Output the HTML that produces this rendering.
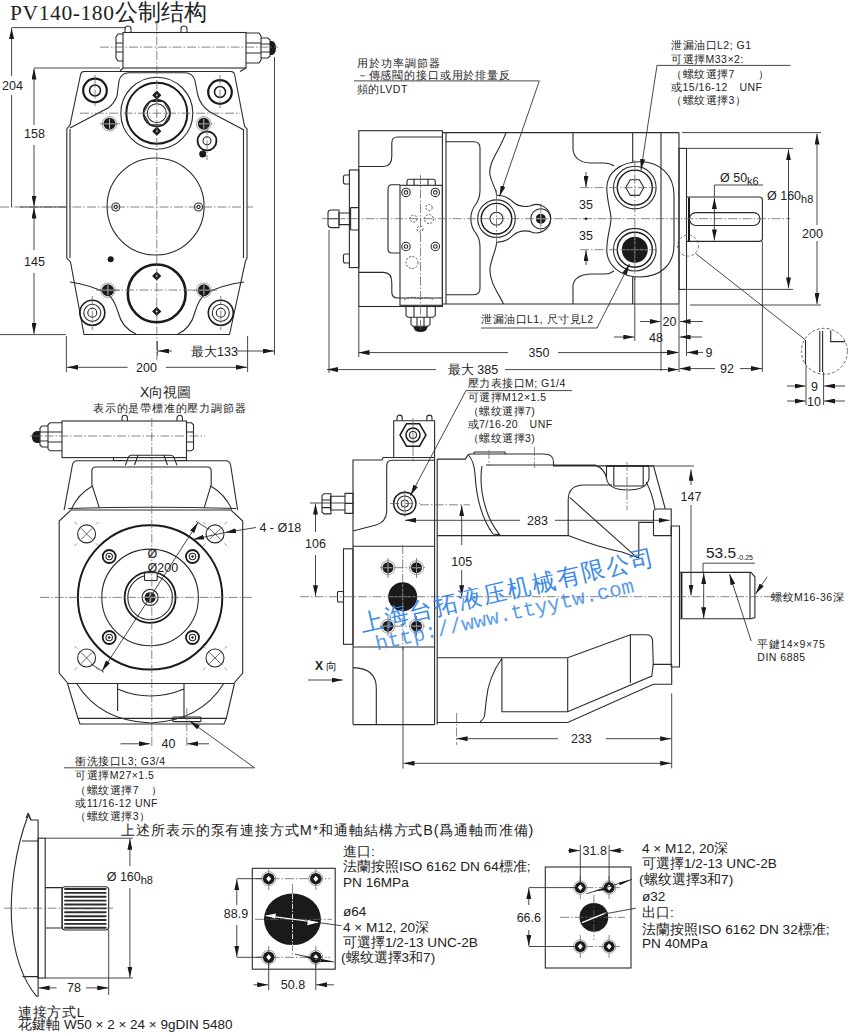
<!DOCTYPE html>
<html><head><meta charset="utf-8">
<style>
html,body{margin:0;padding:0;background:#fff;width:850px;height:1033px;overflow:hidden}
svg{display:block}
.l{stroke:#2a2a2a;fill:none;stroke-width:1.1}
.k{stroke:#1a1a1a;fill:none;stroke-width:2.4}
.c{stroke:#666;fill:none;stroke-width:.8;stroke-dasharray:9 2 1.5 2}
.d{stroke:#333;fill:none;stroke-width:.9}
.f{fill:#1a1a1a;stroke:none}
.w{fill:#fff;stroke:#2a2a2a;stroke-width:1.1}
text{font-family:"Liberation Sans",sans-serif;fill:#222}
.s{font-size:10.5px;letter-spacing:.5px}
.m{font-size:12.5px}
.b{font-size:14px}
</style></head><body>
<svg width="850" height="1033" viewBox="0 0 850 1033">
<defs>
<marker id="a" viewBox="0 0 10 4" refX="10" refY="2" markerWidth="11" markerHeight="5" markerUnits="userSpaceOnUse" orient="auto-start-reverse" preserveAspectRatio="none"><path d="M0,0 L10,2 L0,4 z" fill="#1a1a1a"/></marker>
</defs>
<text x="10" y="20.3" style="font-family:'Liberation Serif',serif;font-size:21.5px;letter-spacing:0.6px">PV140-180<tspan style="letter-spacing:0;font-size:22.5px">公制结构</tspan></text>

<!-- ===== FRONT VIEW ===== -->
<g id="front">
<!-- regulator block -->
<path class="l" d="M125,32 v-3 a3,3 0 0 1 6,0 v3 M181,32 v-3 a3,3 0 0 1 6,0 v3"/>
<rect class="l" x="123" y="32.5" width="123" height="35.5"/>
<path class="l" d="M123,34 h-5 l-2,3 v21 l2,3 h5 M116,43 h7 M116,52 h7"/>
<path class="l" d="M246,33 h13 l2,3 v24 l-2,3 h-13 M246,43 h15 M246,53 h15"/>
<path class="l" d="M261,38 h7 l2,2 v16 l-2,2 h-7 M261,44 h9 M261,52 h9"/>
<path class="f" d="M270,41 h2 a4,7 0 0 1 0,14 h-2 z"/>
<path class="l" d="M123,68 l-3,3 M246,68 l-6,3.5"/>
<!-- main body outline -->
<path class="l" d="M84,71.5 H231 q3,0 3.6,3 L244.5,126 l2.5,3 V258 l-1.5,3 L229.5,334.5 H84 L70.5,262 L66.8,258 V129 l3.2,-4 L80.6,74.5 q0.6,-3 3.4,-3 z"/>
<path class="l" d="M70,129 V258 M243.5,129 V258"/>
<!-- upper inner contour -->
<path class="l" d="M70,128 L108,108 Q114,104 117,96 L119,81 Q121,72.8 129,72.8 H185 Q193,72.8 195,81 L198,96 Q201,106 210,112 L244,130"/>
<!-- lower inner contour -->
<path class="l" d="M70,282 Q90,285 106,293 Q114,298 118,312 Q122,328 136,334 M244,282 Q222,285 207,293 Q199,298 195,312 Q191,328 178,334"/>
<!-- rings upper -->
<circle class="k" cx="95" cy="90.5" r="11.8" style="stroke-width:2.2"/><circle class="k" cx="95" cy="90.5" r="5.5" style="stroke-width:1.5"/>
<circle class="k" cx="220" cy="92" r="11.8" style="stroke-width:2.2"/><circle class="k" cx="220" cy="92" r="5.5" style="stroke-width:1.5"/>
<!-- rings lower -->
<circle class="k" cx="92.3" cy="312.8" r="12.5" style="stroke-width:1.6"/><circle class="l" cx="92.3" cy="312.8" r="8.5"/><circle class="l" cx="92.3" cy="312.8" r="4.5"/>
<circle class="k" cx="220.8" cy="312.8" r="12.5" style="stroke-width:1.6"/><circle class="l" cx="220.8" cy="312.8" r="8.5"/><circle class="l" cx="220.8" cy="312.8" r="4.5"/>
<!-- port plate ring -->
<circle class="l" cx="156.8" cy="113.2" r="36"/>
<circle class="k" cx="156.8" cy="113.2" r="30.5" style="stroke-width:2"/>
<circle class="k" cx="156.8" cy="113.2" r="13.3" style="stroke-width:1.6"/>
<path class="l" d="M150,101.5 h13.6 l6.8,11.7 l-6.8,11.7 h-13.6 l-6.8,-11.7 z"/>
<circle class="l" cx="156.8" cy="113.2" r="9.5"/>
<!-- middle big circle -->
<circle class="l" cx="155.6" cy="206.5" r="48.5"/>
<!-- lower thick circle -->
<circle class="k" cx="156.7" cy="293.4" r="28.9" style="stroke-width:2.6"/>
<!-- small ring right -->
<circle class="k" cx="207" cy="140.8" r="9.5" style="stroke-width:1.8"/><circle class="l" cx="207" cy="140.8" r="4"/>
<circle cx="109.5" cy="123.8" r="7.3" style="fill:none;stroke:#888;stroke-width:.8"/><circle class="f" cx="109.5" cy="123.8" r="6"/><path d="M104.5,123.8 h10 M109.5,118.8 v10" stroke="#bbb" stroke-width="1"/><circle cx="203.8" cy="123.8" r="7.3" style="fill:none;stroke:#888;stroke-width:.8"/><circle class="f" cx="203.8" cy="123.8" r="6"/><path d="M198.8,123.8 h10 M203.8,118.8 v10" stroke="#bbb" stroke-width="1"/><circle cx="107.9" cy="290.2" r="7.3" style="fill:none;stroke:#888;stroke-width:.8"/><circle class="f" cx="107.9" cy="290.2" r="6"/><path d="M102.9,290.2 h10 M107.9,285.2 v10" stroke="#bbb" stroke-width="1"/><circle cx="203.9" cy="290.2" r="7.3" style="fill:none;stroke:#888;stroke-width:.8"/><circle class="f" cx="203.9" cy="290.2" r="6"/><path d="M198.9,290.2 h10 M203.9,285.2 v10" stroke="#bbb" stroke-width="1"/><path class="f" d="M156.8,90.6 L161.4,95.2 L156.8,99.8 L152.2,95.2 z"/><circle cx="156.8" cy="95.2" r="0.9" fill="#fff"/><path class="f" d="M156.8,126.6 L161.4,131.2 L156.8,135.8 L152.2,131.2 z"/><circle cx="156.8" cy="131.2" r="0.9" fill="#fff"/><path class="f" d="M156.7,271.4 L161.3,276.0 L156.7,280.6 L152.1,276.0 z"/><circle cx="156.7" cy="276.0" r="0.9" fill="#fff"/><path class="f" d="M156.7,306.8 L161.3,311.4 L156.7,316.0 L152.1,311.4 z"/><circle cx="156.7" cy="311.4" r="0.9" fill="#fff"/><circle class="l" cx="115.8" cy="207" r="4"/><circle class="l" cx="115.8" cy="207" r="1.6"/><circle class="l" cx="198.5" cy="207" r="4"/><circle class="l" cx="198.5" cy="207" r="1.6"/><circle class="f" cx="202.7" cy="154" r="3.5"/><circle class="f" cx="110.7" cy="259.2" r="3"/>
<path class="c" d="M156.8,22 V360 M100,47.1 H278 M0,207 H253 M80,113.2 H240 M96,290 H217 M95,75 V106 M220,75 V108 M92.3,296 V330 M220.8,296 V330"/>
<path class="c" d="M200,123.8 H215 M100,123.8 H120 M98,290.2 H120 M192,290.2 H215 M207,126 V160"/>
<!-- dimension lines -->
<path class="d" d="M11.6,27.6 H125 M34,68 H120 M20,207 H66 M0,334.6 H66 M66.4,336 V372 M247.6,336 V372 M274.5,57 V355 M157.3,341 V356"/>
<path class="d" marker-end="url(#a)" d="M11.6,76 V28"/>
<path class="d" d="M11.6,95 V207"/>
<path class="d" marker-end="url(#a)" d="M34,125 V68.5"/>
<path class="d" marker-end="url(#a)" d="M34,145 V206.5"/>
<path class="d" marker-end="url(#a)" d="M34,250 V207.5"/>
<path class="d" marker-end="url(#a)" d="M34,273 V334"/>
<path class="d" marker-end="url(#a)" d="M127.6,367.3 H67"/>
<path class="d" marker-end="url(#a)" d="M165.8,367.3 H247"/>
<path class="d" marker-end="url(#a)" d="M172,351 H158"/>
<path class="d" marker-end="url(#a)" d="M237,351 H274"/>
<text class="m" x="2" y="90">204</text>
<text class="m" x="24" y="138">158</text>
<text class="m" x="24" y="266">145</text>
<text class="m" x="136" y="372">200</text>
<text class="m" x="191" y="356">最大133</text>
</g>
<g id="side">
<!-- end cover -->
<rect class="l" x="358.8" y="130.7" width="83.6" height="175.8"/>
<path class="l" d="M358.8,166.5 H383.5 Q391.8,166.5 391.8,156 V143 Q391.8,137 397.6,137 H442.4 M358.8,272.4 H383.5 Q391.8,272.4 391.8,283 V292 Q391.8,298 397.6,298 H442.4"/>
<path class="l" d="M400,184.8 H392 Q388,184.8 388,189 V249 Q388,253 392,253 H400"/>
<!-- mounting plate + bolts -->
<rect class="l" x="349.4" y="170" width="9.4" height="97.6"/>
<path class="l" d="M349.4,175 h-4 q-2,0 -2,2 v5 q0,2 2,2 h4 M349.4,254 h-4 q-2,0 -2,2 v5 q0,2 2,2 h4"/>
<path class="l" d="M350.6,207.6 h8.2 M350.6,230 h8.2 M350.6,207.6 V230"/>
<path class="l" d="M350.6,213 h-11.6 v11.6 h11.6"/>
<path class="l" d="M339,210 h-8 q-3,0 -3,3 v11.6 q0,3 3,3 h8 z M328.5,218.7 h10"/>
<!-- valve block -->
<rect class="l" x="400" y="185.3" width="42.4" height="120"/>
<path class="l" d="M407,185.3 v-4 q0,-2 2,-2 h24.3 q2,0 2,2 v4 M414,179.4 v6 M428,179.4 v6"/>
<circle class="l" cx="406" cy="192.4" r="4.2"/><circle class="l" cx="406" cy="192.4" r="1.8"/>
<circle class="l" cx="435.3" cy="192.4" r="4.2"/><circle class="l" cx="435.3" cy="192.4" r="1.8"/>
<circle class="l" cx="406" cy="246.5" r="4.2"/><circle class="l" cx="406" cy="246.5" r="1.8"/>
<circle class="l" cx="435.3" cy="246.5" r="4.2"/><circle class="l" cx="435.3" cy="246.5" r="1.8"/>
<g style="stroke:#444;fill:none;stroke-width:.9;stroke-dasharray:2 1.5">
<circle cx="429" cy="207.5" r="3.2"/><circle cx="413.5" cy="218.7" r="3.5"/><circle cx="429" cy="219" r="4.5"/><circle cx="420" cy="229" r="3"/><circle cx="412" cy="262.5" r="6"/>
<path d="M404,300 q8,-5 16,-1 q8,-3 14,1"/>
</g>
<!-- bottom fitting -->
<path class="l" d="M406,305.3 v10 l2,2 h25.3 l2,-2 v-10 M414,305.3 v12 M427,305.3 v12"/>
<path class="l" d="M411,317.3 v7 l2,2 h15 l2,-2 v-7 M417,317.3 v9 M424,317.3 v9"/>
<path class="f" d="M413,326.5 h15 l-2,4 q-5.5,3 -11,0 z"/>
<!-- main body -->
<path class="l" d="M442.4,132.6 H679 M442.4,304 H679 M446,132.6 V304 M661,132.6 V304 M679,132.6 V304"/>
<path class="l" d="M446,141.8 H474 Q480,141.8 480,148 V190 Q480,198 476,204 A23.5,23.5 0 0 0 476,233.4 Q480,239 480,247 V288 Q480,294.7 474,294.7 H446"/>
<path class="l" d="M506,132.6 C500,150 488,162 490,175 C492,185 497,190 496.5,195.2 M496.5,242.2 C497,248 492,256 490,268 C489,282 499,294 503.5,304"/>
<path class="l" d="M496.5,195.2 A23.5,23.5 0 0 1 513,202 Q520,208 530,206 A14.2,14.2 0 1 1 530,231.4 Q520,229.4 513,235.4 A23.5,23.5 0 0 1 496.5,242.2"/>
<circle class="l" cx="496.5" cy="218.7" r="18.8"/><circle class="k" cx="496.5" cy="218.7" r="15.3" style="stroke-width:1.4"/>
<circle class="l" cx="496.5" cy="218.7" r="6.5"/>
<circle class="l" cx="540.8" cy="218.7" r="10"/>
<circle class="f" cx="540.8" cy="218.7" r="5"/><path d="M536,218.7 h9.6 M540.8,214 v9.4" stroke="#ccc" stroke-width="1"/>
<path class="l" d="M573,132.6 V150 Q575,162 590,163 H603 Q610,163 614,166 M632.7,132.6 V162 M573,304 V285 Q575,275 590,274 H605 Q610,274 614,271 M632.7,304 V277"/>
<!-- peanut boss -->
<path class="l" d="M640,161.8 C660,161.8 674,175 674,195 V245 C674,265 660,277 640,277 C620,277 606.8,265 606.8,250 C606.8,236 611,226 611,218.7 C611,211 606.8,201 606.8,188 C606.8,173 620,161.8 640,161.8 Z"/>
<circle class="l" cx="634.8" cy="187.6" r="21.3"/><circle class="k" cx="634.8" cy="187.6" r="17.5" style="stroke-width:1.4"/>
<path class="l" d="M630.3,179.8 h9 l4.5,7.8 l-4.5,7.8 h-9 l-4.5,-7.8 z"/>
<circle class="l" cx="634.8" cy="249.7" r="21.3"/><circle class="k" cx="634.8" cy="249.7" r="17.5" style="stroke-width:1.4"/>
<circle class="f" cx="634.8" cy="249.7" r="13"/>
<path d="M622,249.7 h25.6 M634.8,237 v25.4" stroke="#999" stroke-width=".8" stroke-dasharray="3 1.5"/>
<!-- flange + shaft -->
<rect class="l" x="679" y="148.4" width="7.5" height="141"/>
<path class="l" d="M686.5,197 H759.4 q3,0 3,3 V238.4 q0,3 -3,3 H686.5"/>
<path class="k" d="M689,197.5 V241" style="stroke-width:2"/>
<rect class="l" x="689.5" y="212.6" width="70.5" height="12.9" rx="6.4"/>
<circle cx="688" cy="245.6" r="10.5" style="stroke:#555;fill:none;stroke-width:.8;stroke-dasharray:3 2"/>
<path class="d" d="M695.5,253.4 L805,339.5"/>
<!-- detail circle -->
<circle cx="824.4" cy="351.3" r="23" style="stroke:#555;fill:none;stroke-width:.9;stroke-dasharray:3 2"/>
<path class="l" d="M805.5,340 V365 M819.8,331 V372 M822.6,331 V372 M830.7,330.5 V341.6 H845"/>
<path class="d" d="M806,366 V405 M823.6,372 V405"/>
<!-- centerlines -->
<path class="c" d="M322,218.7 H790 M420.5,175 V333 M496.5,190 V248 M540.8,204 V233 M634.8,160 V280 M580,187.6 H656 M580,249.7 H656"/>
<!-- dims -->
<path class="d" d="M329,230 V373 M358.8,306 V357 M661,304 V371 M679,304 V372 M686.5,289.4 V356 M634.8,277 V341 M762.4,241.4 V372"/>
<path class="d" d="M682,132.6 H821 M690,305 H821 M686.5,148.4 H793 M686.5,289.4 H793 M714.4,197 V185 H763"/>
<path class="d" marker-end="url(#a)" d="M817,225 V133.6"/>
<path class="d" marker-end="url(#a)" d="M817,241 V304"/>
<path class="d" marker-end="url(#a)" d="M788.5,218 V149.4"/>
<path class="d" marker-end="url(#a)" d="M788.5,218 V288.4"/>
<path class="d" marker-end="url(#a)" d="M714.4,219 V198"/>
<path class="d" marker-end="url(#a)" d="M714.4,219 V240.4"/>
<path class="d" marker-end="url(#a)" d="M586,172 V187"/>
<path class="d" marker-end="url(#a)" d="M586,265 V250.3"/>
<circle class="f" cx="586" cy="218.7" r="1.3"/>
<path class="d" marker-end="url(#a)" d="M640,321.5 H660.5"/>
<path class="d" marker-end="url(#a)" d="M703,321.5 H679.5"/>
<path class="d" marker-end="url(#a)" d="M614,337 H634.3"/>
<path class="d" marker-end="url(#a)" d="M702,337 H679.5"/>
<path class="d" marker-end="url(#a)" d="M660,352.4 H678.5"/>
<path class="d" marker-end="url(#a)" d="M703,352.4 H687"/>
<path class="d" marker-end="url(#a)" d="M508,352.6 H358.5"/>
<path class="d" marker-end="url(#a)" d="M558,352.6 H678"/>
<path class="d" marker-end="url(#a)" d="M436,369.6 H327"/>
<path class="d" marker-end="url(#a)" d="M505,369.6 H678.5"/>
<path class="d" marker-end="url(#a)" d="M715,368.6 H679.5"/>
<path class="d" marker-end="url(#a)" d="M740,368.6 H762"/>
<path class="d" marker-end="url(#a)" d="M787,386 H805.5"/>
<path class="d" marker-end="url(#a)" d="M845,386 H824.2"/>
<path class="d" marker-end="url(#a)" d="M787,401 H805.5"/>
<path class="d" marker-end="url(#a)" d="M845,401 H824.2"/>
<!-- leaders -->
<path class="d" d="M354,80.9 H539.3"/>
<path class="d" marker-end="url(#a)" d="M539.3,80.9 L499.5,196.5"/>
<path class="d" d="M657,65.4 H790.6"/>
<path class="d" marker-end="url(#a)" d="M657,65.4 L641,170"/>
<path class="d" d="M481,328 H597"/>
<path class="d" marker-end="url(#a)" d="M597,328 L629.5,264"/>
<!-- texts -->
<text class="s" x="356.8" y="66.8" style="letter-spacing:1px">用於功率調節器</text>
<text class="s" x="356.8" y="79" style="letter-spacing:.85px">－傳感閥的接口或用於排量反</text>
<text class="s" x="356.8" y="92.7">頻的LVDT</text>
<text class="s" x="671" y="49">泄漏油口L2; G1</text>
<text class="s" x="671" y="63">可選擇M33×2:</text>
<text class="s" x="671" y="77.5">（螺纹選擇7　　）</text>
<text class="s" x="671" y="90.5">或15/16-12　UNF</text>
<text class="s" x="671" y="103.5">（螺纹選擇3）</text>
<text class="s" x="481" y="323">泄漏油口L1, 尺寸見L2</text>
<text class="m" x="586" y="209" text-anchor="middle">35</text>
<text class="m" x="586" y="240" text-anchor="middle">35</text>
<text class="m" x="669.5" y="326" text-anchor="middle">20</text>
<text class="m" x="656" y="341.5" text-anchor="middle">48</text>
<text class="m" x="709" y="357" text-anchor="middle">9</text>
<text class="m" x="539" y="357" text-anchor="middle">350</text>
<text class="m" x="473" y="374" text-anchor="middle">最大 385</text>
<text class="m" x="727" y="373" text-anchor="middle">92</text>
<text class="m" x="814.5" y="390.5" text-anchor="middle">9</text>
<text class="m" x="814" y="405.5" text-anchor="middle">10</text>
<text class="m" x="812.5" y="238" text-anchor="middle">200</text>
<text class="m" x="767" y="199.5">Ø 160<tspan style="font-size:11px" dy="3">h8</tspan></text>
<text class="m" x="720" y="181.5">Ø 50<tspan style="font-size:11px" dy="3">k6</tspan></text>
</g>
<g id="xview">
<text x="140" y="396.5" style="font-size:14px">X向視圖</text>
<text class="s" x="93" y="412" style="letter-spacing:.8px">表示的是帶標准的壓力調節器</text>
<!-- regulator -->
<path class="l" d="M122,421 v-3 a2.7,2.7 0 0 1 5.4,0 v3 M177,421 v-3 a2.7,2.7 0 0 1 5.4,0 v3"/>
<rect class="l" x="62" y="421" width="124.5" height="36.6"/>
<path class="l" d="M186.5,422.8 h5 l2,2 v24 l-2,2 h-5 M186.5,432 h7 M186.5,442 h7"/>
<path class="l" d="M62,422.8 h-12 l-2,2 v24 l2,2 h12 M48,432 h14 M48,442 h14"/>
<path class="l" d="M48,426 h-6 l-2,2 v17 l2,2 h6 M40,432 h8 M40,441 h8"/>
<path class="f" d="M39.8,431 h-3 a5,6 0 0 0 0,12 h3 z"/>
<path class="l" d="M113.5,457.6 V460.5 H125.3 M177,460.5 H186.5 V457.6"/>
<path class="l" d="M125.3,465.4 L128.3,457.5 q0.8,-2.2 3,-2.2 H171 q2.2,0 3,2.2 L177,465.4 M138,455.3 L134.5,465 M164,455.3 L167.5,465"/>
<!-- upper body -->
<path class="l" d="M64.1,510 L72.4,465 q0.8,-4.3 5,-4.3 H225.6 q4.2,0 5,4.3 L237.6,510"/>
<path class="l" d="M91.9,484.7 V471 q0,-4 4,-4 H207.2 q4,0 4,4 V484.7 L204.1,508.2 M91.9,484.7 L99.4,508.2"/>
<path class="l" d="M92.4,485.9 Q78,494 71.2,509.4 M210.6,485.9 Q225,494 231.8,509.4"/>
<path class="l" d="M68,508.5 Q150,506 236,508.5"/>
<!-- flange square -->
<path class="l" d="M71,510 H231 L242.7,521 V673 L233.7,683.5 H68 L59.2,673 V521 Z"/>
<circle class="k" cx="150.1" cy="597.4" r="72.2" style="stroke-width:2"/>
<circle class="l" cx="150.1" cy="597.4" r="48.3"/>
<circle class="k" cx="150.1" cy="597.4" r="25.5" style="stroke-width:1.8"/>
<circle class="l" cx="150.1" cy="597.4" r="22.3"/>
<rect class="w" x="144.5" y="572.8" width="12.7" height="7.7" rx="1"/>
<circle class="l" cx="150.1" cy="597.4" r="8"/>
<circle class="f" cx="150.1" cy="597.4" r="5.5"/>
<path d="M145,597.4 h10.2 M150.1,592.3 v10.2" stroke="#ddd" stroke-width="1.1"/>
<circle class="k" cx="109.2" cy="556.5" r="6.5" style="stroke-width:1.8"/><circle class="l" cx="109.2" cy="556.5" r="3.2"/><circle class="f" cx="109.2" cy="556.5" r="1.2"/><circle class="k" cx="192.5" cy="556.5" r="6.5" style="stroke-width:1.8"/><circle class="l" cx="192.5" cy="556.5" r="3.2"/><circle class="f" cx="192.5" cy="556.5" r="1.2"/><circle class="k" cx="109.2" cy="637.5" r="6.5" style="stroke-width:1.8"/><circle class="l" cx="109.2" cy="637.5" r="3.2"/><circle class="f" cx="109.2" cy="637.5" r="1.2"/><circle class="k" cx="192.5" cy="637.5" r="6.5" style="stroke-width:1.8"/><circle class="l" cx="192.5" cy="637.5" r="3.2"/><circle class="f" cx="192.5" cy="637.5" r="1.2"/><circle class="l" cx="86.6" cy="533.9" r="9"/><path d="M81.0,528.3 L92.2,539.5 M92.2,528.3 L81.0,539.5" stroke="#444" stroke-width=".8"/><path d="M77.1,524.4 l-2.5,-2.5 M96.0,524.4 l2.5,-2.5 M77.1,543.4 l-2.5,2.5 M96.0,543.4 l2.5,2.5" stroke="#666" stroke-width=".7"/><circle class="l" cx="215.0" cy="533.9" r="9"/><path d="M209.4,528.3 L220.6,539.5 M220.6,528.3 L209.4,539.5" stroke="#444" stroke-width=".8"/><path d="M205.6,524.4 l-2.5,-2.5 M224.4,524.4 l2.5,-2.5 M205.6,543.4 l-2.5,2.5 M224.4,543.4 l2.5,2.5" stroke="#666" stroke-width=".7"/><circle class="l" cx="86.6" cy="658.0" r="9"/><path d="M81.0,652.4 L92.2,663.6 M92.2,652.4 L81.0,663.6" stroke="#444" stroke-width=".8"/><path d="M77.1,648.5 l-2.5,-2.5 M96.0,648.5 l2.5,-2.5 M77.1,667.5 l-2.5,2.5 M96.0,667.5 l2.5,2.5" stroke="#666" stroke-width=".7"/><circle class="l" cx="215.0" cy="658.0" r="9"/><path d="M209.4,652.4 L220.6,663.6 M220.6,652.4 L209.4,663.6" stroke="#444" stroke-width=".8"/><path d="M205.6,648.5 l-2.5,-2.5 M224.4,648.5 l2.5,-2.5 M205.6,667.5 l-2.5,2.5 M224.4,667.5 l2.5,2.5" stroke="#666" stroke-width=".7"/>
<!-- lower body -->
<path class="l" d="M67.5,683.5 L78,718.4 H226.3 L234.5,683.5 M78,718.4 L80,724 H224 L226.3,718.4"/>
<path class="l" d="M117.6,683.5 V711 M184,683.5 V719 M117.6,689 Q150,703 184,689"/>
<path class="l" d="M77,684 Q100,721 150.5,723 Q200,721 223.5,684"/>
<rect class="l" x="172.7" y="717" width="28.3" height="4.6" rx="1"/>
<!-- centerlines -->
<path class="c" d="M30,436 H205 M151.8,418 V748 M40,597.4 H252 M186.8,708 V748"/>

<!-- dims -->
<path class="d" marker-end="url(#a)" d="M150,597.4 L198,522.6"/>
<path class="d" marker-end="url(#a)" d="M150,597.4 L102,671"/>
<path class="d" d="M196,521.3 L209,529.5 M104,672.3 L91,664"/>
<path class="d" marker-end="url(#a)" d="M256,527.5 L225,532.5"/>
<path class="d" marker-end="url(#a)" d="M225,532.5 L193,539.5"/>
<path class="d" marker-end="url(#a)" d="M120.5,743.8 H150"/>
<path class="d" marker-end="url(#a)" d="M209,743.8 H187.3"/>
<path class="d" marker-end="url(#a)" d="M254.6,767.8 L189.6,721"/>
<path class="d" d="M64,767.8 H254.6"/>
<text class="m" x="147.5" y="558">Ø</text>
<text class="m" x="147.5" y="572">Ø200</text>
<text class="m" x="259.4" y="532">4 - Ø18</text>
<text class="m" x="168.5" y="748.3" text-anchor="middle">40</text>
<text class="s" x="75.3" y="764.7">衝洗接口L3; G3/4</text>
<text class="s" x="75.3" y="779.4">可選擇M27×1.5</text>
<text class="s" x="75.3" y="793.8">（螺纹選擇7　）</text>
<text class="s" x="75.3" y="807">或11/16-12 UNF</text>
<text class="s" x="75.3" y="819.7">（螺纹選擇3）</text>
</g>
<g id="mview">
<!-- regulator top -->
<path class="l" d="M397,420.7 v-3 a2.6,2.6 0 0 1 5.2,0 v3 M426.8,420.7 v-3 a2.6,2.6 0 0 1 5.2,0 v3"/>
<path class="l" d="M393.7,457.5 V420.7 H434.6 V457.5"/>
<path class="k" d="M406.5,423.8 h13 l6.5,11.2 l-6.5,11.2 h-13 l-6.5,-11.2 z" style="stroke-width:1.5"/>
<circle class="k" cx="413" cy="435" r="7" style="stroke-width:1.5"/><circle class="l" cx="413" cy="435" r="3.5"/>
<!-- upper cover -->
<path class="l" d="M353,724.6 V460 H382 L383,457.5 H434.6 M353,546.2 H434.6 M353,647 H434.6 M353,724.6 H434.6"/>
<path class="l" d="M434.6,457.5 V724.6 M437.2,459 V724.6"/>
<path class="l" d="M434.6,460.2 H392 Q386.7,460.2 386.7,466 V512 Q386,522 376,525 L353,531"/>
<circle class="k" cx="404.8" cy="503.5" r="11.2" style="stroke-width:1.4"/><circle class="l" cx="404.8" cy="503.5" r="7.5"/><circle class="l" cx="404.8" cy="503.5" r="3.5"/>
<!-- adjust screw -->
<path class="l" d="M345,493.4 h8 v20 h-8 z M345,496.3 h-14.5 v13.7 h14.5 M345,503.4 h8"/>
<path class="l" d="M331,493.7 h-7 l-2,2 v16.2 l2,2 h7 z M322,500 h9 M322,507.6 h9"/>
<!-- lower plate -->
<rect class="l" x="343.5" y="548.8" width="9.5" height="95.5"/>
<rect class="l" x="337.5" y="591.5" width="6" height="10.5" rx="1"/>
<circle class="f" cx="402.7" cy="596.7" r="14.5"/>
<path d="M390,596.7 h25.4 M402.7,584 v25.4" stroke="#999" stroke-width=".8" stroke-dasharray="3 1.5"/>
<circle class="f" cx="388" cy="567.7" r="5.5"/><path d="M383.5,567.7 h9.0 M388,563.2 v9.0" stroke="#bbb" stroke-width="1"/><circle cx="388" cy="567.7" r="7.0" style="stroke:#777;fill:none;stroke-width:.7"/><circle class="f" cx="416.5" cy="567.7" r="5.5"/><path d="M412.0,567.7 h9.0 M416.5,563.2 v9.0" stroke="#bbb" stroke-width="1"/><circle cx="416.5" cy="567.7" r="7.0" style="stroke:#777;fill:none;stroke-width:.7"/><circle class="f" cx="388" cy="626.2" r="5.5"/><path d="M383.5,626.2 h9.0 M388,621.7 v9.0" stroke="#bbb" stroke-width="1"/><circle cx="388" cy="626.2" r="7.0" style="stroke:#777;fill:none;stroke-width:.7"/><circle class="f" cx="416.5" cy="626.2" r="5.5"/><path d="M412.0,626.2 h9.0 M416.5,621.7 v9.0" stroke="#bbb" stroke-width="1"/><circle cx="416.5" cy="626.2" r="7.0" style="stroke:#777;fill:none;stroke-width:.7"/>
<path class="l" d="M353,667.6 Q376.3,668 376.3,688 V724.6"/>
<!-- main body -->
<path class="l" d="M437.2,459.1 H465.3 L468.2,454.6 Q469,454 471,454 H544 Q553.5,454 553.5,462 V465.9 H653.5 L665.3,509 M474,452 H505 V454 M474,452 V454 M486,465 H596"/>
<path class="l" d="M468.5,455 Q474,461 475,474 Q477,512 493,534 M482,466 Q480,476 482,492 Q486,518 499.5,534.5 L493,534"/>
<path class="l" d="M437.2,535.6 H568.2 V500 Q568.2,485 584,485 H612 M646,482 Q652,492 655,509 M569.7,497.4 L637,557.6 M568.2,535.6 Q600,548 622,552 Q632,556 638.8,557.6 V522.4 H653.5"/>
<path class="l" d="M596.2,465.9 Q604,468 606.5,478 M606.5,465.9 V478 Q608,490 627.7,490 Q647.5,490 649,478 V465.9 M613.8,465.9 V486 H643.2 V465.9"/><path class="k" d="M606.5,466 H649" style="stroke-width:1.6"/>
<path class="l" d="M653.5,535.6 V512 Q653.5,509 657,509 H671.2 V535.6 H653.5"/>
<path class="l" d="M437.2,657.8 H567.7 L630.4,634.7 H646 Q652,634.7 652.5,640 L653.3,664.4 H671.7 V684.2 H653.3 L567.7,722.5 H437.2"/>
<path class="l" d="M501.9,658.2 Q488,678 486.3,700 L484.5,716 Q484,719 480,722 M501.9,658.2 V711.8 H567.7 L651.8,676 Q652.5,670 653.3,664.4 M567.7,658.2 V711.8 M630.4,634.7 V683"/>
<!-- flange -->
<path class="l" d="M671.2,526 V667 M671.2,526 H679.5 V667 H671.2"/>
<path class="l" d="M679.5,572.4 H751 L754.9,576.8 V617.6 L751,618.8 H679.5 M750,572.4 V618.8"/>
<path class="k" d="M681.5,573 V618" style="stroke-width:1.8"/>
<!-- centerlines -->
<path class="c" d="M300,596.7 H790 M413,418 V462 M404.8,490 V518 M390,503.5 H420 M420,504.8 H470 M402.7,545 V650 M534.4,447 V468 M627,462 V510 M489,450 V466"/>
<path class="c" d="M380,567.7 H425 M380,626.2 H425 M388,558 V578 M416.5,558 V578 M388,616 V636 M416.5,616 V636 M456.6,713 V745"/>
<!-- dims -->
<path class="d" d="M403,647 V768.6 M671.7,693.4 V768.4 M650,466 H694 M703,572 V563.2 H754.9 M310,503 H345"/>
<path class="d" marker-end="url(#a)" d="M461.7,545 V505.3"/>
<path class="d" marker-end="url(#a)" d="M461.7,570 V596.2"/>
<path class="d" marker-end="url(#a)" d="M315.5,532 V503.5"/>
<path class="d" marker-end="url(#a)" d="M315.5,555 V596.2"/>
<path class="d" marker-end="url(#a)" d="M520,520.3 H405"/>
<path class="d" marker-end="url(#a)" d="M555,520.3 H669.5"/>
<path class="d" marker-end="url(#a)" d="M691,485 V469.7"/>
<path class="d" marker-end="url(#a)" d="M691,505 V595.5"/>
<path class="d" marker-end="url(#a)" d="M703.7,596 V573"/>
<path class="d" marker-end="url(#a)" d="M703.7,596 V618.3"/>
<path class="d" marker-end="url(#a)" d="M558,738.7 H456.6"/>
<path class="d" marker-end="url(#a)" d="M606,738.7 H671.2"/>
<path class="d" marker-end="url(#a)" d="M520,763.3 H403.5"/>
<path class="d" marker-end="url(#a)" d="M520,763.3 H671.2"/>
<path class="d" marker-end="url(#a)" d="M307.8,680 H342.7"/>
<path class="d" marker-end="url(#a)" d="M751.2,641 L729.5,574"/>
<path class="d" marker-end="url(#a)" d="M767.2,576.8 L755.5,594"/>
<!-- leader M -->
<path class="d" d="M466,390.6 H572"/>
<path class="d" marker-end="url(#a)" d="M466,390.6 L410.5,495.5"/>
<!-- texts -->
<text class="s" x="467.5" y="387">壓力表接口M; G1/4</text>
<text class="s" x="467.5" y="401.3">可選擇M12×1.5</text>
<text class="s" x="467.5" y="414.7">（螺纹選擇7)</text>
<text class="s" x="467.5" y="428.2">或7/16-20　UNF</text>
<text class="s" x="467.5" y="441.5">（螺纹選擇3)</text>
<text class="m" x="315.5" y="548" text-anchor="middle">106</text>
<text class="m" x="461.7" y="566" text-anchor="middle">105</text>
<text class="m" x="537.5" y="525" text-anchor="middle">283</text>
<text class="m" x="691" y="500.5" text-anchor="middle">147</text>
<text class="m" x="581.4" y="743.2" text-anchor="middle">233</text>
<text x="315" y="670" style="font-size:12px;font-weight:bold">X</text><text class="s" x="326" y="669.5">向</text>
<text x="706" y="557.5" style="font-size:15.5px">53.5</text><text x="737" y="560" style="font-size:7px">-0.25</text>
<text class="s" x="771" y="601">螺纹M16-36深</text>
<text class="s" x="757.3" y="647.5">平鍵14×9×75</text>
<text class="s" x="757.3" y="660.6">DIN 6885</text>
</g>
<g id="bottom">
<text x="121.4" y="835" style="font-size:14.4px;letter-spacing:.87px">上述所表示的泵有連接方式M*和通軸結構方式B(爲通軸而准備)</text>
<!-- spline view -->
<path class="l" d="M28.2,813 L31,820 M28.2,813 L26,818"/>
<path class="l" d="M28.2,815 C15,850 10,890 11.5,920 C13,955 24,982 36.7,996.3 H38.1 V820 H31 L28.2,815"/>
<path class="l" d="M22,841 H38.1 M22.5,976.6 H38.1"/>
<rect class="l" x="38.1" y="838.2" width="7.1" height="139.8"/>
<path class="l" d="M45.2,887.6 H62.1 V928 H45.2"/>
<rect class="l" x="62.1" y="886.8" width="46.6" height="43.2" rx="3"/><path d="M65,889.0 H105.7" stroke="#2a2a2a" stroke-width="1.9" stroke-linecap="round"/><path d="M65,892.9 H105.7" stroke="#2a2a2a" stroke-width="1.9" stroke-linecap="round"/><path d="M65,896.8 H105.7" stroke="#2a2a2a" stroke-width="1.9" stroke-linecap="round"/><path d="M65,900.6 H105.7" stroke="#2a2a2a" stroke-width="1.9" stroke-linecap="round"/><path d="M65,904.5 H105.7" stroke="#2a2a2a" stroke-width="1.9" stroke-linecap="round"/><path d="M65,908.4 H105.7" stroke="#2a2a2a" stroke-width="1.9" stroke-linecap="round"/><path d="M65,912.3 H105.7" stroke="#2a2a2a" stroke-width="1.9" stroke-linecap="round"/><path d="M65,916.2 H105.7" stroke="#2a2a2a" stroke-width="1.9" stroke-linecap="round"/><path d="M65,920.0 H105.7" stroke="#2a2a2a" stroke-width="1.9" stroke-linecap="round"/><path d="M65,923.9 H105.7" stroke="#2a2a2a" stroke-width="1.9" stroke-linecap="round"/><path d="M65,927.8 H105.7" stroke="#2a2a2a" stroke-width="1.9" stroke-linecap="round"/>

<path class="c" d="M4,908.2 H113"/>
<path class="d" d="M45.2,838.2 H132.7 M45.2,978 H132.7 M108.7,930 V995"/>
<path class="d" marker-end="url(#a)" d="M129.9,868 V838.7"/>
<path class="d" marker-end="url(#a)" d="M129.9,888 V977.5"/>
<path class="d" marker-end="url(#a)" d="M56.5,987.9 H38.6"/>
<path class="d" marker-end="url(#a)" d="M86,987.9 H108.2"/>
<rect x="106" y="866" width="50" height="16" fill="#fff"/>
<text class="m" x="106.7" y="880.5">Ø 160<tspan style="font-size:11px" dy="3">h8</tspan></text>
<text class="m" x="74" y="992.3" text-anchor="middle">78</text>
<text x="18.3" y="1017" style="font-size:13.5px;letter-spacing:.6px">連接方式L</text>
<text x="18.3" y="1029" style="font-size:13.5px">花鍵軸 W50 × 2 × 24 × 9gDIN 5480</text>
<!-- flange DN64 -->
<rect class="l" x="252.3" y="868.3" width="82.9" height="100.9"/>
<ellipse class="f" cx="292.5" cy="919.3" rx="28.5" ry="25.8"/>
<path class="c" d="M292.5,884 V956 M255,919.3 H332 M256,878.7 H330 M256,957.3 H330 M268.7,868 V890 M315.8,868 V890 M268.7,946 V968 M315.8,946 V968"/>
<path d="M292.5,894 V945" stroke="#ddd" stroke-width="1" stroke-dasharray="5 2 1 2"/>
<path d="M266,915.6 L318,922.5" stroke="#fff" stroke-width="1.2"/>
<path d="M266,915.6 L276,913.5 L275,918.6 Z M318,922.5 L308,920 L307.2,925.3 Z" fill="#fff"/>
<path class="d" d="M318,922.5 L341.6,925.8"/>
<circle cx="268.7" cy="878.7" r="7.0" style="fill:none;stroke:#888;stroke-width:.8"/><circle class="f" cx="268.7" cy="878.7" r="5.8"/><path d="M268.7,875.7 L271.2,878.7 L268.7,881.7 L266.2,878.7 z" fill="#fff"/><circle cx="315.8" cy="878.7" r="7.0" style="fill:none;stroke:#888;stroke-width:.8"/><circle class="f" cx="315.8" cy="878.7" r="5.8"/><path d="M315.8,875.7 L318.3,878.7 L315.8,881.7 L313.3,878.7 z" fill="#fff"/><circle cx="268.7" cy="957.3" r="7.0" style="fill:none;stroke:#888;stroke-width:.8"/><circle class="f" cx="268.7" cy="957.3" r="5.8"/><path d="M268.7,954.3 L271.2,957.3 L268.7,960.3 L266.2,957.3 z" fill="#fff"/><circle cx="315.8" cy="957.3" r="7.0" style="fill:none;stroke:#888;stroke-width:.8"/><circle class="f" cx="315.8" cy="957.3" r="5.8"/><path d="M315.8,954.3 L318.3,957.3 L315.8,960.3 L313.3,957.3 z" fill="#fff"/>
<path class="d" d="M236.8,878.7 H262 M236.8,957.3 H262 M268.7,963 V990 M315.8,963 V990"/>
<path class="d" marker-end="url(#a)" d="M236.8,905 V879.2"/>
<path class="d" marker-end="url(#a)" d="M236.8,925 V956.8"/>
<path class="d" marker-end="url(#a)" d="M253.6,984.8 H268.2"/>
<path class="d" marker-end="url(#a)" d="M333.9,984.8 H316.3"/>
<path class="d" d="M295,954.2 L333.9,962"/>
<path d="M303,956 L316,958.3 L315.2,961 Z" fill="#1a1a1a"/>
<path d="M333.9,962 L321,959 L320.2,962 Z" fill="#1a1a1a"/>
<text class="m" x="236" y="917.8" text-anchor="middle">88.9</text>
<text class="m" x="293" y="989.3" text-anchor="middle">50.8</text>
<g style="font-size:13.6px">
<text x="343" y="856">進口:</text>
<text x="343" y="871">法蘭按照ISO 6162 DN 64標准;</text>
<text x="343" y="886.5">PN 16MPa</text>
<text x="343" y="915.5">ø64</text>
<text x="343" y="931.8">4 × M12, 20深</text>
<text x="343" y="947.4">可選擇1/2-13 UNC-2B</text>
<text x="341" y="961.6">(螺纹選擇3和7)</text>
</g>
<!-- flange DN32 -->
<rect class="l" x="545.3" y="867" width="85.7" height="101"/>
<circle class="f" cx="593.9" cy="917.3" r="14.4"/>
<path class="c" d="M560,917.3 H625 M593.9,895 V940 M570,887.6 H620 M570,946.5 H620 M580.3,876 V899 M609.1,876 V899 M580.3,935 V958 M609.1,935 V958"/>
<path d="M582,922.6 L606,912.8" stroke="#fff" stroke-width="1.3"/>
<path class="d" d="M604,914 L635.9,908.2"/>
<circle cx="580.3" cy="887.6" r="6.7" style="fill:none;stroke:#888;stroke-width:.8"/><circle class="f" cx="580.3" cy="887.6" r="5.5"/><path d="M580.3,884.6 L582.8,887.6 L580.3,890.6 L577.8,887.6 z" fill="#fff"/><circle cx="609.1" cy="887.6" r="6.7" style="fill:none;stroke:#888;stroke-width:.8"/><circle class="f" cx="609.1" cy="887.6" r="5.5"/><path d="M609.1,884.6 L611.6,887.6 L609.1,890.6 L606.6,887.6 z" fill="#fff"/><circle cx="580.3" cy="946.5" r="6.7" style="fill:none;stroke:#888;stroke-width:.8"/><circle class="f" cx="580.3" cy="946.5" r="5.5"/><path d="M580.3,943.5 L582.8,946.5 L580.3,949.5 L577.8,946.5 z" fill="#fff"/><circle cx="609.1" cy="946.5" r="6.7" style="fill:none;stroke:#888;stroke-width:.8"/><circle class="f" cx="609.1" cy="946.5" r="5.5"/><path d="M609.1,943.5 L611.6,946.5 L609.1,949.5 L606.6,946.5 z" fill="#fff"/>
<path class="d" d="M586.5,893.8 L631.8,879.4"/>
<path d="M593,891.5 L606,887.3 L606.8,890 Z M631.8,879.4 L619,882.5 L619.8,885.2 Z" fill="#1a1a1a"/>
<path class="d" d="M528.8,887.6 H575 M528.8,946.5 H575 M580.3,845 V882 M609.1,845 V882"/>
<path class="d" marker-end="url(#a)" d="M528.8,905 V888.1"/>
<path class="d" marker-end="url(#a)" d="M528.8,930 V946"/>
<path class="d" marker-end="url(#a)" d="M568,850.6 H579.8"/>
<path class="d" marker-end="url(#a)" d="M623.5,850.6 H609.6"/>
<rect x="514" y="910" width="29" height="14" fill="#fff"/>
<text class="m" x="528.8" y="921.5" text-anchor="middle">66.6</text>
<text class="m" x="594.7" y="855" text-anchor="middle">31.8</text>
<g style="font-size:13.6px">
<text x="642" y="853.3">4 × M12, 20深</text>
<text x="642" y="868">可選擇1/2-13 UNC-2B</text>
<text x="639" y="883.5">(螺纹選擇3和7)</text>
<text x="642" y="900.8">ø32</text>
<text x="642" y="917.3">出口:</text>
<text x="642" y="933.6">法蘭按照ISO 6162 DN 32標准;</text>
<text x="642" y="948">PN 40MPa</text>
</g>
<!-- watermark -->
<g transform="translate(362,631.7) rotate(-12.8)">
<text x="0" y="0" style="font-family:'Liberation Serif',serif;font-size:23.5px;fill:#3b8ae8;letter-spacing:1.2px">上海台拓液压机械有限公司</text>
<text x="10.5" y="21.7" style="font-family:'Liberation Mono',monospace;font-size:21px;fill:#3b8ae8;fill-opacity:.85">http://www.ttyytw.com</text>
</g>
</g>

</svg>
</body></html>
